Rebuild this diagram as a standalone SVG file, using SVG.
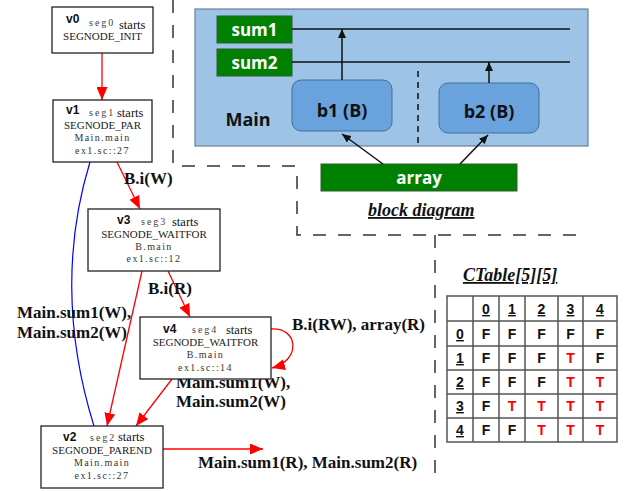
<svg xmlns="http://www.w3.org/2000/svg" width="624" height="491" viewBox="0 0 624 491">
  <style>
    .nb { fill: #fff; stroke: #222; stroke-width: 1.3; }
    .vid { font: bold 12px "Liberation Sans", Arial, sans-serif; fill: #111; }
    .seg { font: 10px "Liberation Serif", serif; letter-spacing: 2px; fill: #444; }
    .st { font: 12.5px "Liberation Serif", serif; fill: #111; }
    .ty { font: 11px "Liberation Serif", serif; fill: #222; text-anchor: middle; }
    .fn { font: 10px "Liberation Serif", serif; letter-spacing: 1.4px; fill: #333; text-anchor: middle; }
    .red { fill: none; stroke: #ff0000; stroke-width: 1.3; }
    .blue { fill: none; stroke: #0000ff; stroke-width: 1.2; }
    .elab { font: bold 17px "Liberation Serif", serif; fill: #111; }
    .dash { fill: none; stroke: #333; stroke-width: 1.5; stroke-dasharray: 13 12; }
    .green { fill: #008000; stroke: #2f5d2f; stroke-width: 1; }
    .gtxt { font: bold 17px "Open Sans", "Liberation Sans", sans-serif; fill: #fff; text-anchor: middle; }
    .blk { fill: #6aa2dd; stroke: #41719c; stroke-width: 1; }
    .btxt { font: bold 18px "Open Sans", "Liberation Sans", sans-serif; fill: #111; text-anchor: middle; }
    .wire { stroke: #111; stroke-width: 1.5; fill: none; }
    .title { font: bold italic 18px "Liberation Serif", serif; fill: #111; text-decoration: underline; }
    .cell { fill: #fff; stroke: #555; stroke-width: 1.5; }
    .tv { font: bold 14px "Liberation Sans", Arial, sans-serif; text-anchor: middle; fill: #111; }
    .tT { fill: #ff0000; }
    .hd { text-decoration: underline; }
  </style>
  <defs>
    <marker id="ah-red" markerUnits="userSpaceOnUse" markerWidth="13" markerHeight="11" refX="13" refY="5.5" orient="auto">
      <path d="M0,0 L13,5.5 L0,11 z" fill="#ff0000"/>
    </marker>
    <marker id="ah-blk" markerUnits="userSpaceOnUse" markerWidth="9" markerHeight="8" refX="9" refY="4" orient="auto">
      <path d="M0,0 L9,4 L0,8 z" fill="#111"/>
    </marker>
  </defs>

  <!-- section separators -->
  <g id="separators">
    <path class="dash" d="M173,0 L173,166 L297,166 L297,235 L582,235"/>
    <path class="dash" d="M435,235 L435,474"/>
  </g>

  <!-- block diagram -->
  <g id="main-module">
    <rect x="195" y="9" width="393" height="137" fill="#9dc3e6" stroke="#6b7f96" stroke-width="1.2"/>
    <text x="248" y="126" class="btxt">Main</text>
    <line x1="418" y1="71" x2="418" y2="146" stroke="#111" stroke-width="1.5" stroke-dasharray="6 5"/>
  </g>
  <g id="sum1">
    <rect class="green" x="217" y="16" width="75" height="27"/>
    <text x="254.5" y="36" class="gtxt">sum1</text>
  </g>
  <g id="sum2">
    <rect class="green" x="217" y="49" width="75" height="27"/>
    <text x="254.5" y="69" class="gtxt">sum2</text>
  </g>
  <g id="b1">
    <rect class="blk" x="292" y="80" width="100" height="51" rx="9"/>
    <text x="342" y="117" class="btxt">b1 (B)</text>
  </g>
  <g id="b2">
    <rect class="blk" x="439" y="83" width="100" height="50" rx="9"/>
    <text x="489" y="118" class="btxt">b2 (B)</text>
  </g>
  <g id="array">
    <rect class="green" x="321" y="164" width="196" height="27"/>
    <text x="419" y="184" class="gtxt">array</text>
  </g>
  <g id="block-wires">
    <line class="wire" x1="292" y1="29" x2="570" y2="29"/>
    <line class="wire" x1="292" y1="62" x2="570" y2="62"/>
    <line class="wire" x1="342" y1="80" x2="342" y2="29" marker-end="url(#ah-blk)"/>
    <line class="wire" x1="489" y1="83" x2="489" y2="62" marker-end="url(#ah-blk)"/>
    <line class="wire" x1="383" y1="164" x2="342" y2="134" marker-end="url(#ah-blk)"/>
    <line class="wire" x1="460" y1="164" x2="488" y2="135" marker-end="url(#ah-blk)"/>
  </g>
  <text x="368" y="216" class="title">block diagram</text>

  <!-- segment graph connectors -->
  <g id="connectors">
    <path class="blue" d="M90,162 C66,240 64,330 94,426"/>
    <path class="red" d="M102,53 L102,100" marker-end="url(#ah-red)"/>
    <path class="red" d="M117,162 L140,209" marker-end="url(#ah-red)"/>
    <path class="red" d="M168,271 L190,317" marker-end="url(#ah-red)"/>
    <path class="red" d="M142,271 L107,426" marker-end="url(#ah-red)"/>
    <path class="red" d="M172,379 L136,426" marker-end="url(#ah-red)"/>
    <path class="red" d="M271,329 C298,327 302,360 272,368" marker-end="url(#ah-red)"/>
    <path class="red" d="M163,449 L263,449" marker-end="url(#ah-red)"/>
    <text x="124" y="184" class="elab">B.i(W)</text>
    <text x="148" y="294" class="elab">B.i(R)</text>
    <text x="292" y="330" class="elab">B.i(RW), array(R)</text>
    <text x="17" y="318" class="elab">Main.sum1(W),</text>
    <text x="17" y="338" class="elab">Main.sum2(W)</text>
    <text x="176" y="388" class="elab">Main.sum1(W),</text>
    <text x="176" y="407" class="elab">Main.sum2(W)</text>
    <text x="198" y="468" class="elab">Main.sum1(R), Main.sum2(R)</text>
  </g>

  <!-- segment nodes -->
  <g id="v0">
    <rect class="nb" x="52" y="7" width="101" height="46"/>
    <text x="66" y="23" class="vid">v0</text>
    <text x="89" y="26" class="seg">seg0</text>
    <text x="119" y="28.5" class="st">starts</text>
    <text x="102.5" y="40" class="ty">SEGNODE_INIT</text>
  </g>
  <g id="v1">
    <rect class="nb" x="53" y="100" width="99" height="62"/>
    <text x="66" y="114" class="vid">v1</text>
    <text x="89" y="115.5" class="seg">seg1</text>
    <text x="117" y="117" class="st">starts</text>
    <text x="102.5" y="128.5" class="ty">SEGNODE_PAR</text>
    <text x="102.5" y="140.5" class="fn">Main.main</text>
    <text x="102.5" y="153.5" class="fn">ex1.sc::27</text>
  </g>
  <g id="v3">
    <rect class="nb" x="88" y="209" width="132" height="62"/>
    <text x="117" y="223.5" class="vid">v3</text>
    <text x="141" y="224.5" class="seg">seg3</text>
    <text x="172" y="225.5" class="st">starts</text>
    <text x="154" y="237.5" class="ty">SEGNODE_WAITFOR</text>
    <text x="154" y="249.5" class="fn">B.main</text>
    <text x="154" y="262" class="fn">ex1.sc::12</text>
  </g>
  <g id="v4">
    <rect class="nb" x="140" y="317" width="131" height="62"/>
    <text x="163" y="332.5" class="vid">v4</text>
    <text x="192" y="332.5" class="seg">seg4</text>
    <text x="226" y="333.5" class="st">starts</text>
    <text x="205.5" y="345.5" class="ty">SEGNODE_WAITFOR</text>
    <text x="205.5" y="357.5" class="fn">B.main</text>
    <text x="205.5" y="371" class="fn">ex1.sc::14</text>
  </g>
  <g id="v2">
    <rect class="nb" x="41" y="426" width="122" height="62"/>
    <text x="63" y="440.5" class="vid">v2</text>
    <text x="90" y="440.5" class="seg">seg2</text>
    <text x="118" y="441" class="st">starts</text>
    <text x="102" y="453.5" class="ty">SEGNODE_PAREND</text>
    <text x="102" y="466" class="fn">Main.main</text>
    <text x="102" y="479" class="fn">ex1.sc::27</text>
  </g>

  <!-- conflict table -->
  <g id="ctable">
    <text x="463" y="281" class="title">CTable[5][5]</text>
    <g>
      <rect class="cell" x="447" y="296" width="170" height="146"/>
      <line class="cell" x1="473" y1="296" x2="473" y2="442"/>
      <line class="cell" x1="499" y1="296" x2="499" y2="442"/>
      <line class="cell" x1="525" y1="296" x2="525" y2="442"/>
      <line class="cell" x1="558" y1="296" x2="558" y2="442"/>
      <line class="cell" x1="583" y1="296" x2="583" y2="442"/>
      <line class="cell" x1="447" y1="321" x2="617" y2="321"/>
      <line class="cell" x1="447" y1="346" x2="617" y2="346"/>
      <line class="cell" x1="447" y1="370" x2="617" y2="370"/>
      <line class="cell" x1="447" y1="394" x2="617" y2="394"/>
      <line class="cell" x1="447" y1="418" x2="617" y2="418"/>
    </g>
    <g class="tv">
      <!-- column headers -->
      <text x="486" y="314" class="hd">0</text>
      <text x="512" y="314" class="hd">1</text>
      <text x="541.5" y="314" class="hd">2</text>
      <text x="570.5" y="314" class="hd">3</text>
      <text x="600" y="314" class="hd">4</text>
      <!-- row 0 -->
      <text x="460" y="339" class="hd">0</text>
      <text x="486" y="339">F</text><text x="512" y="339">F</text><text x="541.5" y="339">F</text><text x="570.5" y="339">F</text><text x="600" y="339">F</text>
      <!-- row 1 -->
      <text x="460" y="363" class="hd">1</text>
      <text x="486" y="363">F</text><text x="512" y="363">F</text><text x="541.5" y="363">F</text><text x="570.5" y="363" class="tT">T</text><text x="600" y="363">F</text>
      <!-- row 2 -->
      <text x="460" y="387" class="hd">2</text>
      <text x="486" y="387">F</text><text x="512" y="387">F</text><text x="541.5" y="387">F</text><text x="570.5" y="387" class="tT">T</text><text x="600" y="387" class="tT">T</text>
      <!-- row 3 -->
      <text x="460" y="411" class="hd">3</text>
      <text x="486" y="411">F</text><text x="512" y="411" class="tT">T</text><text x="541.5" y="411" class="tT">T</text><text x="570.5" y="411" class="tT">T</text><text x="600" y="411" class="tT">T</text>
      <!-- row 4 -->
      <text x="460" y="435" class="hd">4</text>
      <text x="486" y="435">F</text><text x="512" y="435">F</text><text x="541.5" y="435" class="tT">T</text><text x="570.5" y="435" class="tT">T</text><text x="600" y="435" class="tT">T</text>
    </g>
  </g>
</svg>
